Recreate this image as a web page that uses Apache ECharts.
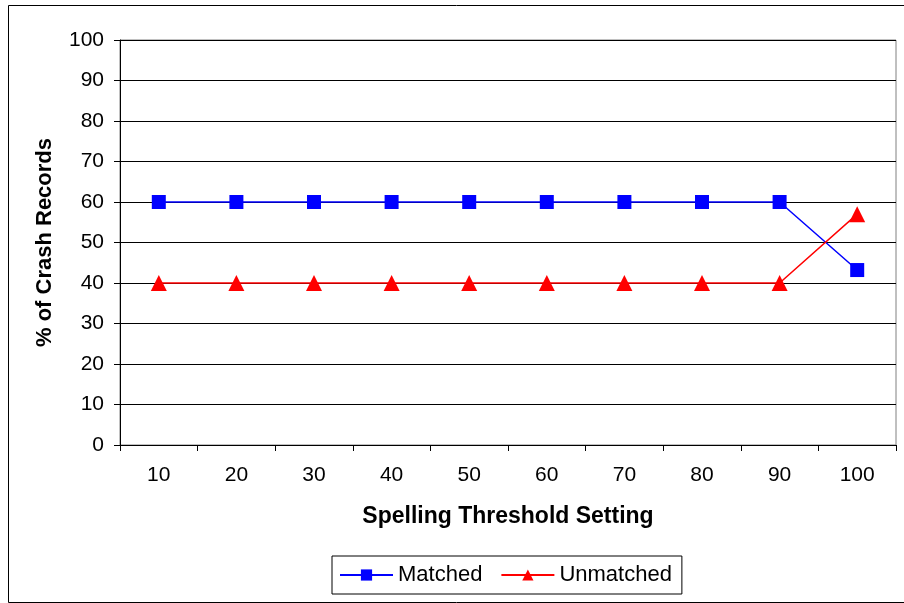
<!DOCTYPE html>
<html>
<head>
<meta charset="utf-8">
<script src="https://cdn.jsdelivr.net/npm/echarts@6/dist/echarts.min.js"></script>
<style>
  html, body { margin: 0; padding: 0; background: #fff; }
  #chart { width: 904px; height: 603px; }
</style>
</head>
<body>
<div id="chart"></div>
<script>
const thresholds = ['10', '20', '30', '40', '50', '60', '70', '80', '90', '100']
const matched   = [60, 60, 60, 60, 60, 60, 60, 60, 60, 43.2]
const unmatched = [40, 40, 40, 40, 40, 40, 40, 40, 40, 57]

const font = 'Liberation Sans, Arial, sans-serif'
const chart = echarts.init(document.getElementById('chart'))

chart.setOption({
  backgroundColor: '#fff',
  animation: false,
  graphic: [{
    type: 'rect', left: 6, top: 3,
    shape: { width: 896, height: 597 },
    style: { fill: 'none', stroke: '#000', lineWidth: 1 }, silent: true,
  }],
  grid: { left: 120, right: 8, top: 40, bottom: 158, show: true, borderColor: '#808080', borderWidth: 1 },
  legend: {
    left: 332, top: 556,
    itemWidth: 53, itemHeight: 14, itemGap: 18,
    padding: [8, 10, 8, 7],
    borderColor: '#000', borderWidth: 1,
    textStyle: { fontFamily: font, fontSize: 22, color: '#000' },
    data: ['Matched', 'Unmatched'],
  },
  xAxis: {
    type: 'category', data: thresholds, boundaryGap: true,
    name: 'Spelling Threshold Setting', nameLocation: 'middle', nameGap: 60,
    nameTextStyle: { fontFamily: font, fontSize: 23, fontWeight: 'bold', color: '#000' },
    axisLine: { lineStyle: { color: '#000', width: 1 } },
    axisTick: { show: true, length: 6, lineStyle: { color: '#000' } },
    axisLabel: { fontFamily: font, fontSize: 21, color: '#000', margin: 20 },
  },
  yAxis: {
    type: 'value', min: 0, max: 100, interval: 10,
    name: '% of Crash Records', nameLocation: 'middle', nameGap: 64,
    nameTextStyle: { fontFamily: font, fontSize: 22, fontWeight: 'bold', color: '#000' },
    axisLine: { show: true, lineStyle: { color: '#000', width: 1 } },
    axisTick: { show: true, length: 6, lineStyle: { color: '#000' } },
    axisLabel: { fontFamily: font, fontSize: 21, color: '#000', margin: 16 },
    splitLine: { show: true, lineStyle: { color: '#000', width: 1 } },
  },
  series: [
    {
      name: 'Matched', type: 'line', data: matched,
      symbol: 'rect', symbolSize: 14,
      lineStyle: { color: '#0000ff', width: 1.5 },
      itemStyle: { color: '#0000ff' },
    },
    {
      name: 'Unmatched', type: 'line', data: unmatched,
      symbol: 'triangle', symbolSize: 16,
      lineStyle: { color: '#ff0000', width: 1.5 },
      itemStyle: { color: '#ff0000' },
    },
  ],
})
</script>
</body>
</html>
